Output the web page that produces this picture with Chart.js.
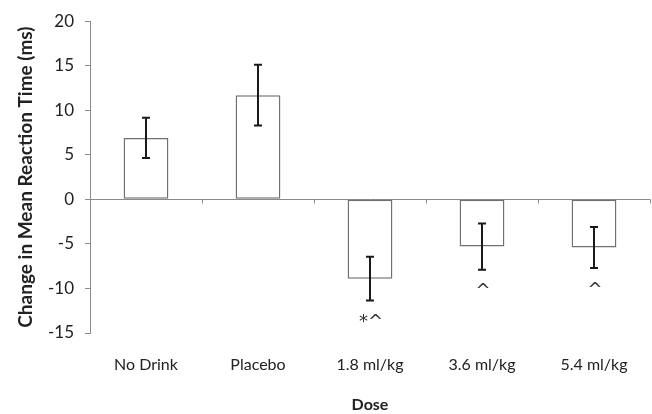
<!DOCTYPE html>
<html><head><meta charset="utf-8">
<script src="https://cdn.jsdelivr.net/npm/chart.js@4/dist/chart.umd.min.js"></script>
<style>html,body{margin:0;padding:0;background:#fff}#wrap{width:652px;height:414px}</style>
</head><body><div id="wrap"><canvas id="c"></canvas></div>
<script>
const categories = ["No Drink", "Placebo", "1.8 ml/kg", "3.6 ml/kg", "5.4 ml/kg"];
const means = [6.9, 11.7, -8.9, -5.3, -5.4];
const errors = [2.25, 3.4, 2.45, 2.6, 2.3];
const marks = ["", "", "*^", "^", "^"];
const yTicks = [20, 15, 10, 5, 0, -5, -10, -15];

const FONT = "Lato, 'Open Sans', sans-serif";
const AXIS = "#8a8a8a";

const extras = {
  id: "extras",
  afterDatasetsDraw(chart) {
    const ctx = chart.ctx, x = chart.scales.x, y = chart.scales.y;
    const y0 = y.getPixelForValue(0);
    const step = x.getPixelForValue(1) - x.getPixelForValue(0);
    ctx.save();
    ctx.strokeStyle = AXIS; ctx.lineWidth = 1;
    for (let i = 0; i < categories.length; i++) {
      const px = Math.round(x.getPixelForValue(i) + step / 2) + 0.5;
      ctx.beginPath(); ctx.moveTo(px, y0); ctx.lineTo(px, y0 + 4); ctx.stroke();
    }
    ctx.strokeStyle = "#1a1a1a"; ctx.lineWidth = 2;
    means.forEach((m, i) => {
      const px = x.getPixelForValue(i);
      const top = y.getPixelForValue(m + errors[i]);
      const bot = y.getPixelForValue(m - errors[i]);
      ctx.beginPath();
      ctx.moveTo(px, top); ctx.lineTo(px, bot);
      ctx.moveTo(px - 4, top); ctx.lineTo(px + 4, top);
      ctx.moveTo(px - 4, bot); ctx.lineTo(px + 4, bot);
      ctx.stroke();
      if (marks[i]) {
        ctx.fillStyle = "#333";
        ctx.font = "18px 'DejaVu Sans', sans-serif";
        ctx.textAlign = "center"; ctx.textBaseline = "middle";
        ctx.fillText(marks[i], px + 1, bot + 22);
      }
    });
    ctx.restore();
  }
};

new Chart(document.getElementById("c"), {
  type: "bar",
  data: {
    labels: categories,
    datasets: [{
      data: means,
      backgroundColor: "#ffffff",
      borderColor: "#707070",
      borderWidth: 1.5,
      borderSkipped: false,
      barPercentage: 0.4,
      categoryPercentage: 1.0
    }]
  },
  options: {
    responsive: true,
    maintainAspectRatio: false,
    animation: false,
    layout: { padding: { top: 21, right: 2, left: 0, bottom: 0 } },
    plugins: { legend: { display: false }, tooltip: { enabled: false } },
    scales: {
      x: {
        grid: { display: false, drawTicks: false },
        border: { display: false },
        ticks: { color: "#222", font: { family: FONT, size: 16 }, padding: 22 },
        title: { display: true, text: "Dose", color: "#222", font: { family: FONT, size: 16, weight: "bold" }, padding: { top: 14, bottom: 0 } },
        afterFit(s) { s.height = 81; }
      },
      y: {
        min: -15, max: 20,
        afterBuildTicks(s) { s.ticks = yTicks.map(v => ({ value: v })); },
        grid: {
          color: c => (c.tick && c.tick.value === 0) ? AXIS : "transparent",
          tickColor: AXIS, tickLength: 5, drawTicks: true
        },
        border: { color: AXIS },
        ticks: { color: "#222", font: { family: FONT, size: 17 }, padding: 11 },
        title: { display: true, text: "Change in Mean Reaction Time (ms)", color: "#222", font: { family: FONT, size: 19, weight: "bold" }, padding: { top: 14, bottom: 4 } },
        afterFit(s) { s.width = 90; }
      }
    }
  },
  plugins: [extras]
});
</script></body></html>
